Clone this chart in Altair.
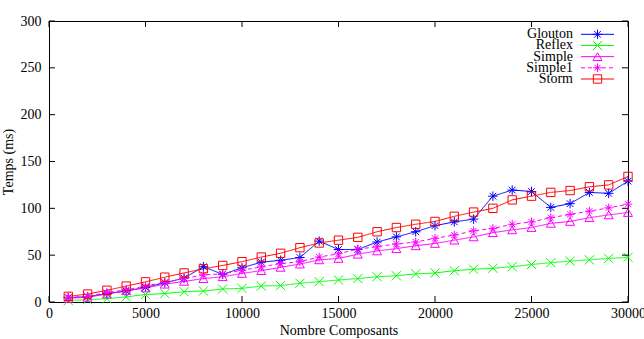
import altair as alt
import pandas as pd

# ---- data ----
nombre = [1000, 2000, 3000, 4000, 5000, 6000, 7000, 8000, 9000, 10000,
          11000, 12000, 13000, 14000, 15000, 16000, 17000, 18000, 19000, 20000,
          21000, 22000, 23000, 24000, 25000, 26000, 27000, 28000, 29000, 30000]
glouton = [4.6, 5.7, 9, 11.7, 15.6, 20.5, 25.5, 37.7, 29.5, 36.5,
           42.5, 44.5, 47.5, 65, 56, 56, 64, 69.5, 75, 81.5,
           85.5, 88.5, 113, 119.5, 118, 101, 105, 117, 116, 129]
reflex = [1.5, 2.5, 3.5, 5.5, 8, 9, 11, 11.7, 13.9, 14.6,
          17, 17.5, 20, 21.7, 23.5, 25, 27, 28, 30, 31,
          33.4, 35, 36, 37.7, 40, 42, 43.7, 45, 46.5, 47.7]
simple = [4, 5, 8.5, 12, 15, 19, 22, 25, 27, 30.5,
          33.5, 37, 40.5, 45, 46.5, 51, 54.5, 57, 60, 62.5,
          66, 69.5, 74, 77, 79.5, 84, 86, 90, 93, 95.5]
simple1 = [5, 6, 10, 13, 17, 21, 25, 29, 30, 34,
           37.5, 41, 43, 48, 51.5, 56.5, 59, 62, 64, 68,
           71.5, 76, 78.5, 83, 85.5, 90, 93.5, 97, 100.5, 104.5]
storm = [6, 8.5, 12.5, 17, 21.5, 26.5, 31, 35.5, 39, 43,
         48, 52, 58, 63, 66, 69, 75, 79.5, 83, 86,
         91.5, 96, 100, 109, 113, 117, 119, 123, 125, 134]

series_names = ["Glouton", "Reflex", "Simple", "Simple1", "Storm"]
series_colors = ["#0000ff", "#00ff00", "#ff00ff", "#ff00ff", "#ff0000"]
x_ticks = [0, 5000, 10000, 15000, 20000, 25000, 30000]
y_ticks = [0, 50, 100, 150, 200, 250, 300]

# ---- tables ----
values = {"Glouton": glouton, "Reflex": reflex, "Simple": simple,
          "Simple1": simple1, "Storm": storm}
rows = []
for s in series_names:
    for xv, yv in zip(nombre, values[s]):
        rows.append({"x": xv, "y": yv, "series": s})
df = pd.DataFrame(rows)
legend_df = pd.DataFrame({"series": series_names, "rank": list(range(len(series_names)))})
xt_df = pd.DataFrame({"t": x_ticks})
yt_df = pd.DataFrame({"t": y_ticks})

W, H = 579, 281
FONT = "Liberation Serif"

asterisk = "M-1,0L1,0M0,-1L0,1M-0.7,-0.7L0.7,0.7M-0.7,0.7L0.7,-0.7"
xcross = "M-1,-1L1,1M-1,1L1,-1"

xscale = alt.Scale(domain=[0, 30000], nice=False, zero=False)
yscale = alt.Scale(domain=[0, 300], nice=False, zero=False)
color = alt.Color("series:N", scale=alt.Scale(domain=series_names, range=series_colors), legend=None)
dash = alt.StrokeDash("series:N", scale=alt.Scale(domain=series_names,
                      range=[[1, 0], [1, 0], [1, 0], [4, 3], [1, 0]]), legend=None)
shape = alt.Shape("series:N", scale=alt.Scale(domain=series_names,
                  range=[asterisk, xcross, "triangle-up", asterisk, "square"]), legend=None)
size = alt.Size("series:N", scale=alt.Scale(domain=series_names,
                range=[90, 70, 90, 90, 70]), legend=None)

base = alt.Chart(df)

lines = base.mark_line(strokeWidth=1).encode(
    x=alt.X("x:Q", scale=xscale,
            axis=alt.Axis(values=x_ticks, format="d", title="Nombre Composants",
                          ticks=False, tickSize=0, domain=False, grid=False,
                          labelFlush=False, labelOverlap=False, labelPadding=4,
                          titlePadding=3)),
    y=alt.Y("y:Q", scale=yscale,
            axis=alt.Axis(values=y_ticks, format="d", title="Temps (ms)",
                          ticks=False, tickSize=0, domain=False, grid=False,
                          labelFlush=False, labelOverlap=False, labelPadding=8,
                          titlePadding=5)),
    color=color,
    strokeDash=dash,
    detail="series:N",
)

points = base.mark_point(filled=False, strokeWidth=1, opacity=1).encode(
    x=alt.X("x:Q", scale=xscale, axis=None),
    y=alt.Y("y:Q", scale=yscale, axis=None),
    color=color,
    shape=shape,
    size=size,
)

# inward ticks (gnuplot style, mirrored)
xt = alt.Chart(xt_df)
yt = alt.Chart(yt_df)
tick_b = xt.mark_rule(color="black", strokeWidth=1).encode(
    x=alt.X("t:Q", scale=xscale, axis=None), y=alt.value(H), y2=alt.value(H - 6))
tick_t = xt.mark_rule(color="black", strokeWidth=1).encode(
    x=alt.X("t:Q", scale=xscale, axis=None), y=alt.value(0), y2=alt.value(6))
tick_l = yt.mark_rule(color="black", strokeWidth=1).encode(
    y=alt.Y("t:Q", scale=yscale, axis=None), x=alt.value(0), x2=alt.value(6))
tick_r = yt.mark_rule(color="black", strokeWidth=1).encode(
    y=alt.Y("t:Q", scale=yscale, axis=None), x=alt.value(W), x2=alt.value(W - 6))

# legend (text on the left, sample on the right)
lscale = alt.Scale(type="point", domain=list(range(len(series_names))), range=[13.3, 58], padding=0)
lg = alt.Chart(legend_df)
leg_text = lg.mark_text(align="right", baseline="middle", font=FONT, fontSize=14, color="black").encode(
    x=alt.value(524), y=alt.Y("rank:O", scale=lscale, axis=None), text="series:N")
leg_line = lg.mark_rule(strokeWidth=1).encode(
    x=alt.value(532), x2=alt.value(565), y=alt.Y("rank:O", scale=lscale, axis=None),
    color=color, strokeDash=dash)
leg_pt = lg.mark_point(filled=False, strokeWidth=1, opacity=1).encode(
    x=alt.value(548.5), y=alt.Y("rank:O", scale=lscale, axis=None),
    color=color, shape=shape, size=size)

chart = alt.layer(
    lines, points, tick_b, tick_t, tick_l, tick_r, leg_text, leg_line, leg_pt
).resolve_scale(
    y="independent"
).resolve_axis(
    x="independent", y="independent"
).properties(
    width=W, height=H,
    autosize=alt.AutoSizeParams(type="none"),
    padding={"left": 49, "top": 21, "right": 16, "bottom": 37},
    background="white",
).configure_view(
    stroke="black", strokeWidth=1
).configure_axis(
    labelFont=FONT, labelFontSize=14, labelColor="black",
    titleFont=FONT, titleFontSize=14, titleFontWeight="normal", titleColor="black",
)

chart.save("out.html", embed_options={"renderer": "svg", "actions": False})
